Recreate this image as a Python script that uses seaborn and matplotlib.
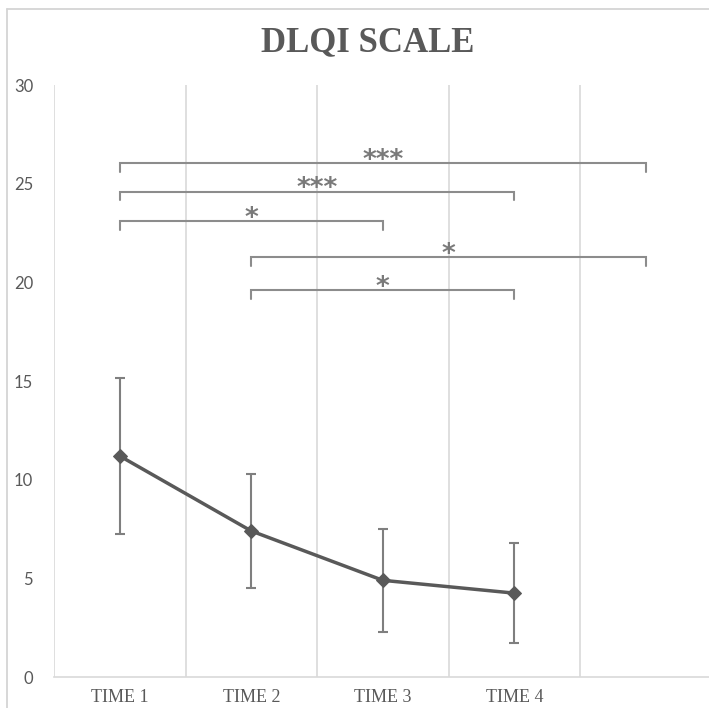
import matplotlib
matplotlib.use("Agg")
import matplotlib.pyplot as plt
import seaborn as sns
import pandas as pd
import numpy as np
from matplotlib.lines import Line2D

categories = ["TIME 1", "TIME 2", "TIME 3", "TIME 4", ""]
means = [11.2, 7.4, 4.9, 4.25]
sds = [3.95, 2.9, 2.6, 2.55]
y_ticks = [0, 5, 10, 15, 20, 25, 30]

# significance brackets: (from index, to index, height, label)
br_from = [0, 0, 0, 1, 1]
br_to = [4, 3, 2, 4, 3]
br_height = [26.05, 24.6, 23.1, 21.3, 19.6]
br_label = ["***", "***", "*", "*", "*"]

sns.set_theme(style="white")
plt.rcParams['font.family'] = ['Liberation Serif', 'DejaVu Serif']

fig = plt.figure(figsize=(7.09, 7.08), dpi=100)
fig.patch.set_facecolor("white")
fig.patch.set_edgecolor("white")
fig.patch.set_linewidth(0)
# outer light frame (left and top edges only visible)
fx = 7.5 / 709
fy = 1 - 8.5 / 708
fig.lines.append(Line2D([fx, fx], [0, fy], transform=fig.transFigure, color="#d4d4d4", linewidth=1.3))
fig.lines.append(Line2D([fx, 1.01], [fy, fy], transform=fig.transFigure, color="#d4d4d4", linewidth=1.3))

ax = fig.add_axes([54/709, 31/708, 657.5/709, 592/708])
ax.set_facecolor("white")

df = pd.DataFrame({"pos": np.arange(len(means)), "score": means})

# vertical category boundary lines
for b in np.arange(-0.5, 4.0, 1.0):
    ax.axvline(b, color="#d9d9d9", linewidth=1.2, zorder=0)

ax.errorbar(df["pos"], df["score"], yerr=sds, fmt="none", ecolor="#7f7f7f",
            elinewidth=1.5, capsize=3.8, capthick=1.5, zorder=2)
sns.lineplot(data=df, x="pos", y="score", marker="D", markersize=7, color="#595959",
             linewidth=2.5, markeredgecolor="#595959", ax=ax, zorder=3)

tick = 0.45
for f, t, h, lab in zip(br_from, br_to, br_height, br_label):
    ax.plot([f, f, t, t], [h - tick, h, h, h - tick], color="#8c8c8c", linewidth=1.5,
            solid_joinstyle="miter", zorder=2)
    ax.text((f + t) / 2, h - 0.55, lab, ha="center", va="bottom", fontsize=19,
            color="#7a7a7a", family=["DejaVu Sans"], fontweight="bold")

ax.set_xlim(-0.5, 4.5)
ax.set_ylim(0, 30)
ax.set_yticks(y_ticks)
ax.set_yticklabels([str(v) for v in y_ticks], fontsize=12, color="#595959",
                   family=["Lato", "DejaVu Sans"])
ax.set_xticks(range(len(categories)))
ax.set_xticklabels(categories, fontsize=13, color="#595959")
ax.set_xlabel("")
ax.set_ylabel("")
ax.tick_params(axis="x", length=0, pad=9)
ax.tick_params(axis="y", length=0, pad=15)
for s in ["top", "right", "left"]:
    ax.spines[s].set_visible(False)
ax.spines["bottom"].set_color("#d9d9d9")
ax.spines["bottom"].set_linewidth(1.2)

fig.text(368/709, 1 - 43/708, "DLQI SCALE", ha="center", va="center", fontsize=25,
         fontweight="bold", color="#595959")

fig.savefig("out.png", dpi=100, facecolor="white", edgecolor="none")
